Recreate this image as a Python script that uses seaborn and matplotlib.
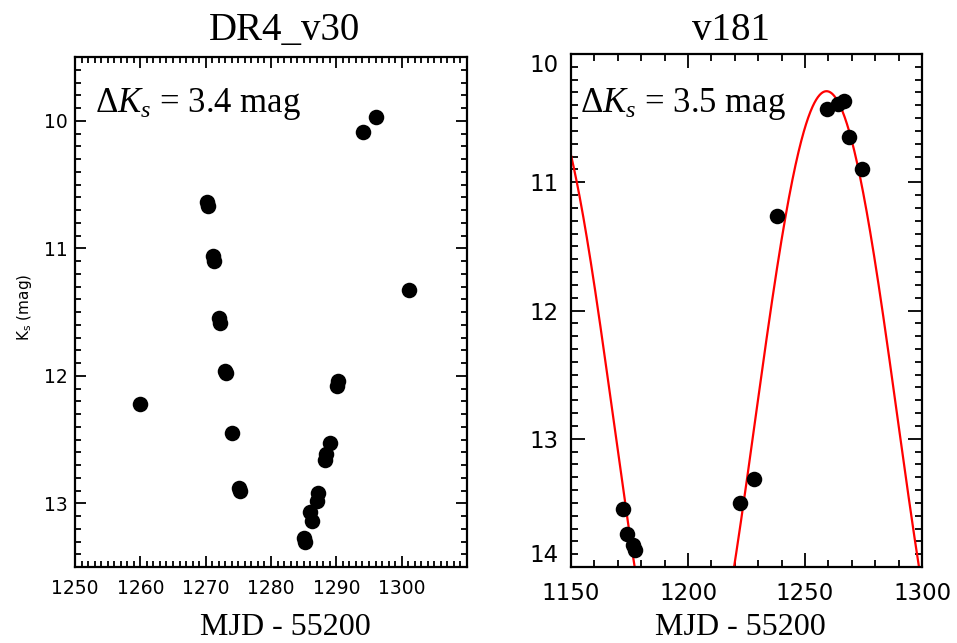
import numpy as np
import pandas as pd
import matplotlib
matplotlib.use("Agg")
import matplotlib.pyplot as plt
from matplotlib.ticker import MultipleLocator
import seaborn as sns

# ---------------- data ----------------
# DR4_v30
v30_mjd = [1260.0, 1270.2, 1270.3, 1271.1, 1271.2, 1272.1, 1272.2, 1273.0, 1273.1,
           1274.0, 1275.1, 1275.2, 1285.0, 1285.2, 1286.0, 1286.2, 1287.0, 1287.2,
           1288.2, 1288.4, 1289.0, 1290.1, 1290.3, 1294.1, 1296.1, 1301.1]
v30_ks = [12.22, 10.64, 10.67, 11.06, 11.10, 11.55, 11.59, 11.96, 11.98,
          12.45, 12.88, 12.90, 13.27, 13.30, 13.07, 13.14, 12.98, 12.92,
          12.66, 12.61, 12.53, 12.08, 12.04, 10.09, 9.97, 11.33]

# v181
v181_mjd = [1172.4, 1174.1, 1176.3, 1177.4, 1222.4, 1228.1, 1238.2,
            1259.5, 1264.3, 1266.8, 1268.9, 1274.2]
v181_ks = [13.55, 13.74, 13.83, 13.87, 13.50, 13.31, 11.26,
           10.43, 10.39, 10.37, 10.65, 10.90]

# sinusoidal fit parameters for v181
fit_period = 121.5
fit_tpeak = 1259.2
fit_mean = 12.84
fit_amp = 2.55

titles = ["DR4_v30", "v181"]
dks_labels = [r"$\Delta K_s$ = 3.4 mag", r"$\Delta K_s$ = 3.5 mag"]
xlabel = "MJD - 55200"
ylabel = r"K$_\mathregular{s}$ (mag)"

# ---------------- style ----------------
sns.set_style("ticks")
plt.rcParams["font.family"] = ["DejaVu Sans"]
plt.rcParams["text.color"] = "black"
plt.rcParams["axes.labelcolor"] = "black"
plt.rcParams["axes.edgecolor"] = "black"
plt.rcParams["xtick.color"] = "black"
plt.rcParams["ytick.color"] = "black"
plt.rcParams["mathtext.fontset"] = "custom"
plt.rcParams["mathtext.rm"] = "Liberation Serif"
plt.rcParams["mathtext.it"] = "Liberation Serif:italic"

fig = plt.figure(figsize=(9.57, 6.43), dpi=100)
W, H = 957, 643

def add_axes_px(x0, x1, y0, y1):
    return fig.add_axes([x0 / W, (H - y1) / H, (x1 - x0) / W, (y1 - y0) / H])

ax1 = add_axes_px(75, 467, 57, 567)
ax2 = add_axes_px(571, 922, 54, 567)

serif = "Liberation Serif"
msize = 125

# ---- left panel ----
df1 = pd.DataFrame({"mjd": v30_mjd, "ks": v30_ks})
sns.scatterplot(data=df1, x="mjd", y="ks", ax=ax1, color="black", s=msize,
                linewidth=0, zorder=3, legend=False)
ax1.set_xlim(1250, 1310)
ax1.set_ylim(13.5, 9.5)
ax1.xaxis.set_major_locator(MultipleLocator(10))
ax1.xaxis.set_minor_locator(MultipleLocator(1))
ax1.yaxis.set_major_locator(MultipleLocator(1))
ax1.yaxis.set_minor_locator(MultipleLocator(0.1))
ax1.set_xticks([1250, 1260, 1270, 1280, 1290, 1300])
ax1.set_xticklabels(["1250", "1260", "1270", "1280", "1290", "1300"])
ax1.tick_params(axis="both", which="both", direction="in", top=True, right=True,
                width=1.3, colors="black")
ax1.tick_params(axis="both", which="major", length=8, labelsize=13.5)
ax1.tick_params(axis="both", which="minor", length=4)
ax1.tick_params(axis="x", which="major", pad=9)
ax1.tick_params(axis="y", which="major", pad=5)
ax1.set_xlabel("")
ax1.set_ylabel("")

# ---- right panel ----
df2 = pd.DataFrame({"mjd": v181_mjd, "ks": v181_ks})
t_fit = np.linspace(1150, 1300, 800)
m_fit = fit_mean - fit_amp * np.cos(2 * np.pi * (t_fit - fit_tpeak) / fit_period)
dfit = pd.DataFrame({"mjd": t_fit, "ks": m_fit})
sns.lineplot(data=dfit, x="mjd", y="ks", ax=ax2, color="#ff0000", linewidth=1.6,
             zorder=2, sort=False, estimator=None)
sns.scatterplot(data=df2, x="mjd", y="ks", ax=ax2, color="black", s=msize,
                linewidth=0, zorder=3, legend=False)
ax2.set_xlim(1150, 1300)
ax2.set_ylim(14, 10)
ax2.xaxis.set_major_locator(MultipleLocator(50))
ax2.xaxis.set_minor_locator(MultipleLocator(10))
ax2.yaxis.set_major_locator(MultipleLocator(1))
ax2.yaxis.set_minor_locator(MultipleLocator(0.1))
ax2.tick_params(axis="both", which="both", direction="in", top=True, right=True,
                width=1.3, colors="black")
ax2.tick_params(axis="both", which="major", length=10, labelsize=16.5)
ax2.tick_params(axis="both", which="minor", length=5)
ax2.tick_params(axis="x", which="major", pad=11)
ax2.tick_params(axis="y", which="major", pad=9)
ax2.set_xlabel("")
ax2.set_ylabel("")
fig.canvas.draw()
for lab in ax2.get_yticklabels():
    if lab.get_text() == "10":
        lab.set_va("top")
    elif lab.get_text() == "14":
        lab.set_va("bottom")

for ax in (ax1, ax2):
    for sp in ax.spines.values():
        sp.set_linewidth(1.6)
        sp.set_color("black")
        sp.set_visible(True)

# ---- texts ----
def ftext(xpx, ypx, s, **kw):
    fig.text(xpx / W, 1 - ypx / H, s, color="black", **kw)

ftext(285, 40, titles[0], family=serif, fontsize=28, ha="center", va="baseline")
ftext(731, 40, titles[1], family=serif, fontsize=28, ha="center", va="baseline")
ftext(285, 635, xlabel, family=serif, fontsize=23, ha="center", va="baseline")
ftext(740, 635, xlabel, family=serif, fontsize=23, ha="center", va="baseline")
ftext(95, 112, dks_labels[0], family=serif, fontsize=25, ha="left", va="baseline")
ftext(580, 112, dks_labels[1], family=serif, fontsize=25, ha="left", va="baseline")
ftext(25, 307, ylabel, fontsize=11, rotation=90, ha="center", va="center")

fig.savefig("out.png", dpi=100)
